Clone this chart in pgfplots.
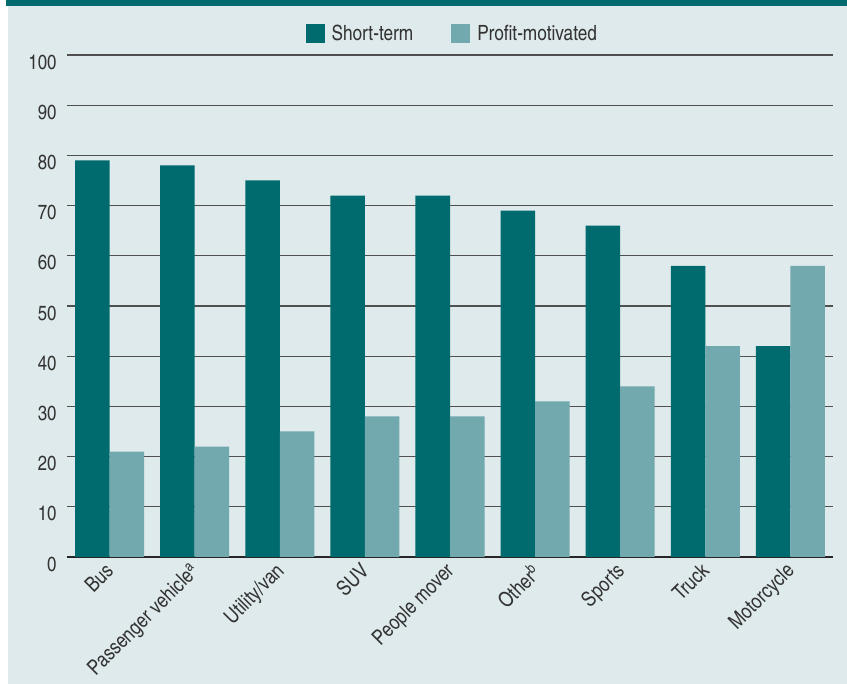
\documentclass[border=0pt]{standalone}
\usepackage{fontspec}
\setmainfont{texgyreheroscn-regular.otf}[BoldFont=texgyreheroscn-bold.otf]
\usepackage{pgfplots}
\pgfplotsset{compat=1.18}
\definecolor{bgcol}{HTML}{DEEAEB}
\definecolor{darkteal}{HTML}{006B6E}
\definecolor{lightteal}{HTML}{72A9AE}
\definecolor{txt}{HTML}{333333}
\definecolor{gridc}{HTML}{505050}

\pgfplotsset{
  sq legend/.style={legend image code/.code={\fill[##1,draw=none] (0pt,-9.5pt) rectangle (19pt,9.5pt);}},
}

\begin{document}
\begin{tikzpicture}[x=1pt,y=1pt]
\fill[white] (0,0) rectangle (847,684);
\fill[bgcol] (8,0) rectangle (847,678);
\fill[darkteal] (6,678) rectangle (847,684);
\begin{axis}[
  at={(67pt,127pt)}, anchor=south west,
  scale only axis, width=766pt, height=502pt,
  ybar=0pt, bar width=34.5pt,
  xmin=-0.5, xmax=8.5, ymin=0, ymax=100,
  clip=false,
  axis x line*=bottom, axis y line*=left,
  x axis line style={draw=black!85, line width=2pt, -},
  y axis line style={draw=none},
  major tick length=0pt,
  ytick={0,10,...,100},
  ymajorgrids,
  grid style={draw=gridc, line width=1.2pt},
  /pgf/number format/assume math mode=true,
  xtick={0,...,8},
  xticklabels={Bus, Passenger vehicle\textsuperscript{a}, Utility/van, SUV, People mover, Other\textsuperscript{b}, Sports, Truck, Motorcycle},
  yticklabel style={font=\fontsize{20.5}{24}\selectfont, text=txt, xshift=-7pt, yshift=-7pt},
  xticklabel style={font=\fontsize{21}{24}\selectfont, text=txt, rotate=45, anchor=north east, inner sep=2pt, xshift=-5pt, yshift=3pt},
  legend style={at={(0.503,1.042)}, anchor=center, legend columns=2, draw=none, fill=none,
    font=\fontsize{21}{24}\selectfont, text=txt,
    /tikz/every odd column/.append style={column sep=5pt},
    /tikz/every even column/.append style={column sep=36pt}},
]
\addplot[fill=darkteal, draw=none, sq legend] coordinates {(0,79)(1,78)(2,75)(3,72)(4,72)(5,69)(6,66)(7,58)(8,42)};
\addlegendentry{Short-term}
\addplot[fill=lightteal, draw=none, sq legend] coordinates {(0,21)(1,22)(2,25)(3,28)(4,28)(5,31)(6,34)(7,42)(8,58)};
\addlegendentry{Profit-motivated}
\end{axis}
\end{tikzpicture}
\end{document}
